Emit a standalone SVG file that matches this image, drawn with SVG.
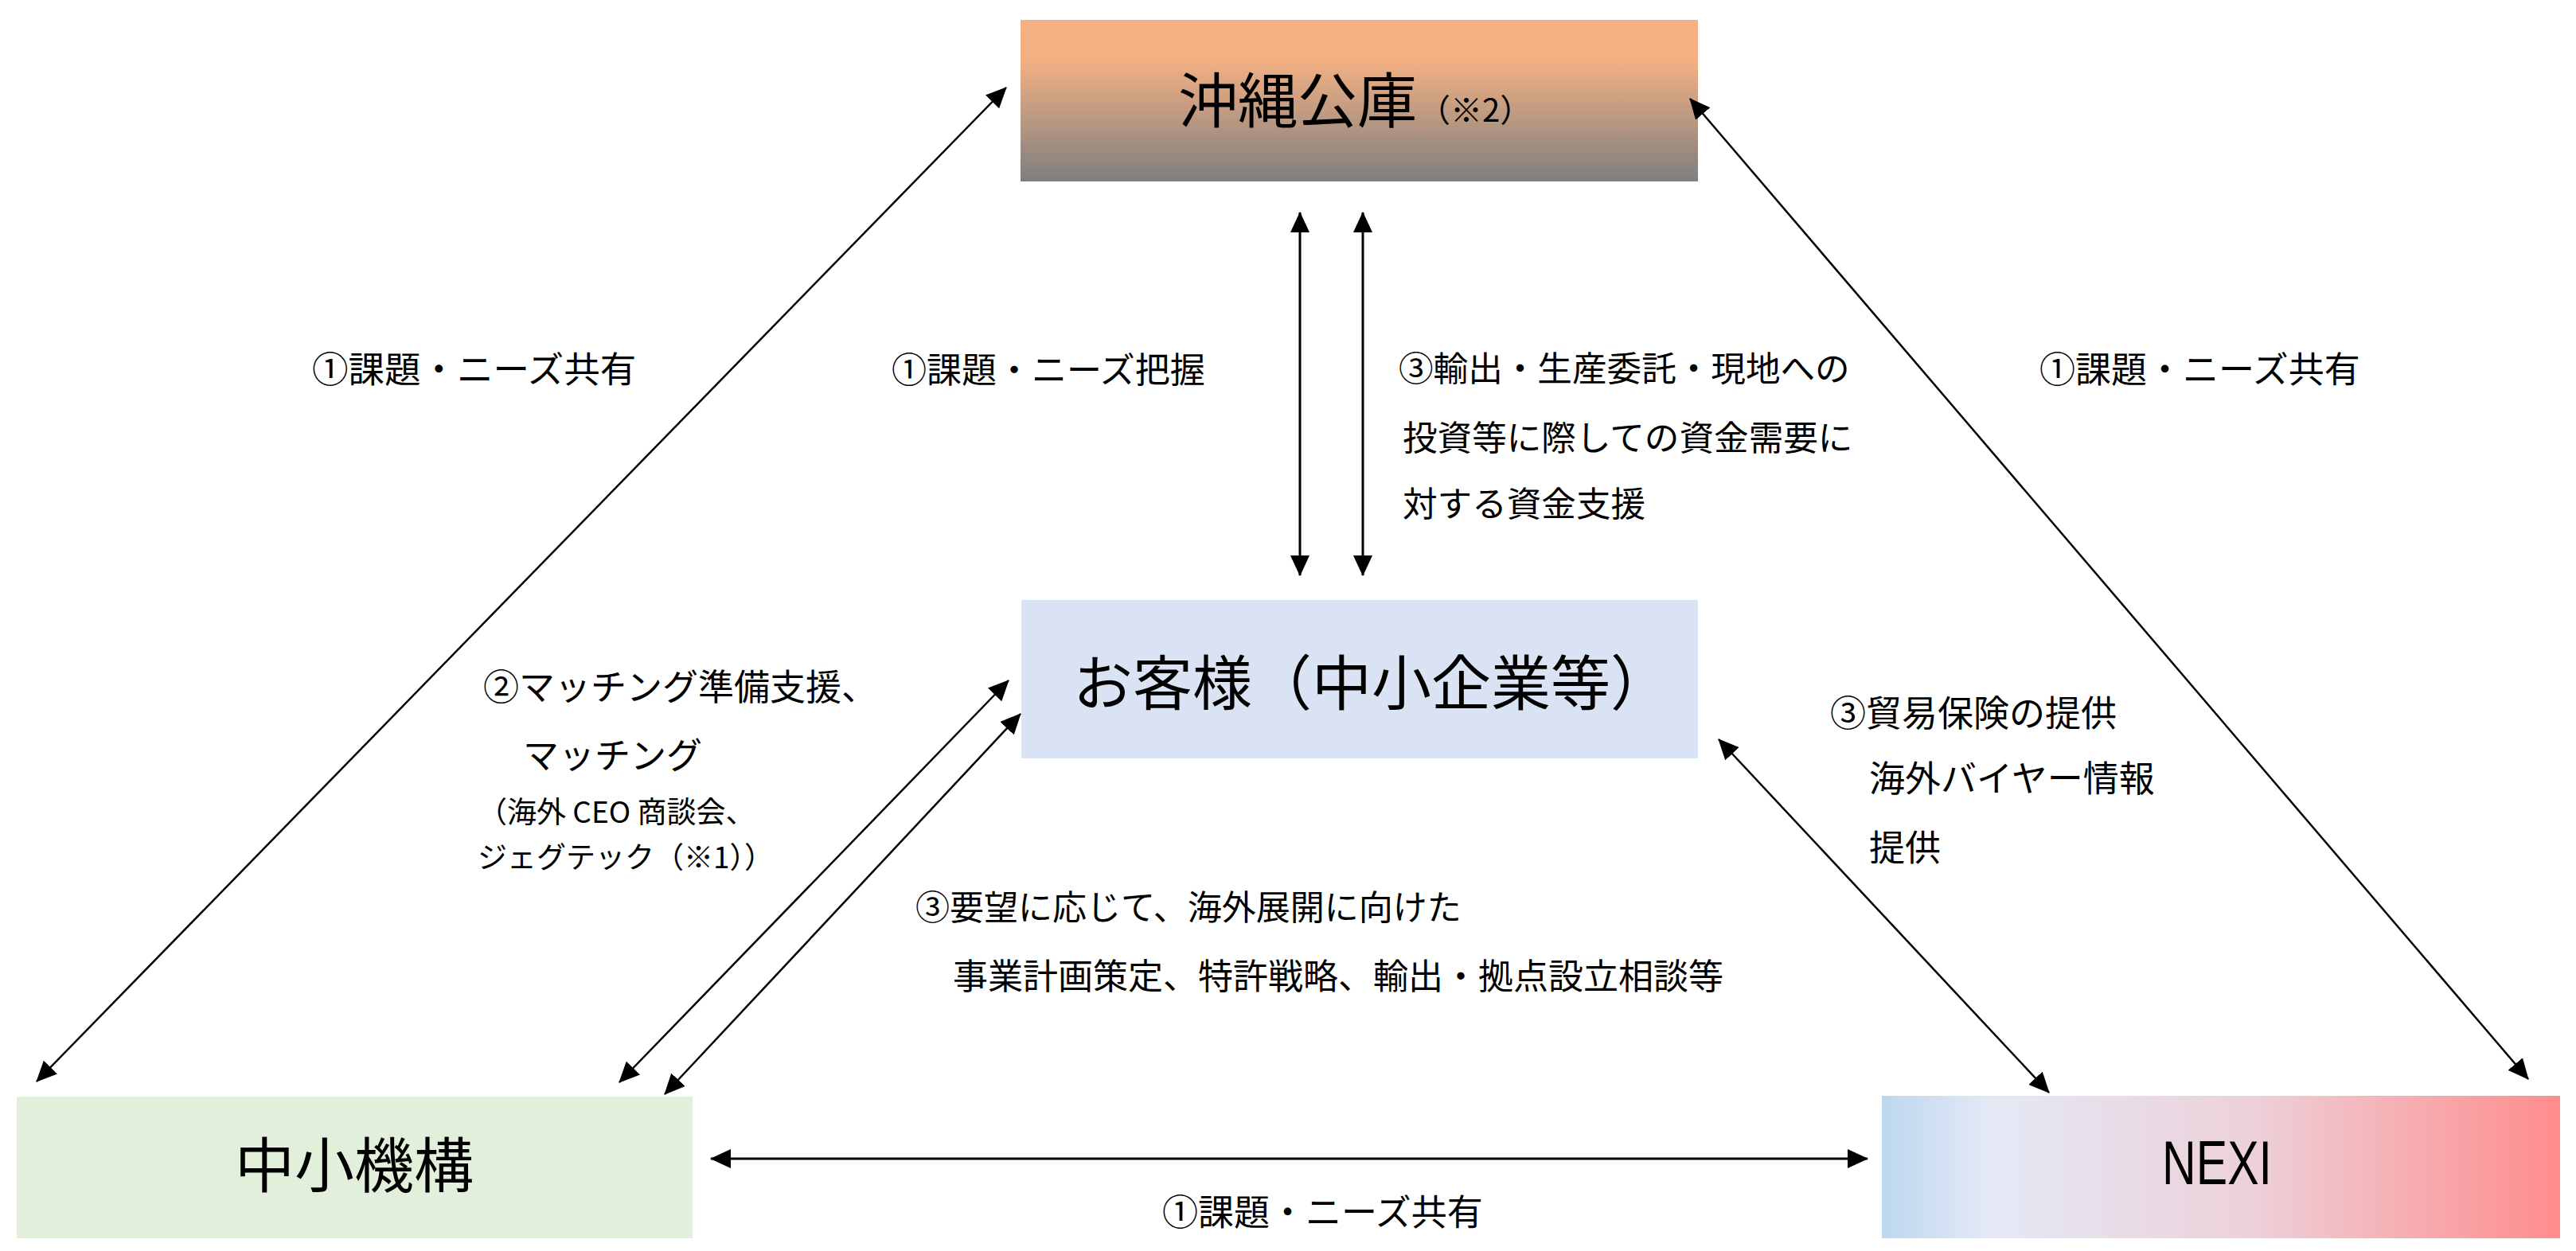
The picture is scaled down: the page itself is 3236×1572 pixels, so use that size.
<svg xmlns="http://www.w3.org/2000/svg" width="3236" height="1572" viewBox="0 0 3236 1572">
<defs>
<linearGradient id="gOki" x1="0" y1="0" x2="0" y2="1">
<stop offset="0" stop-color="#F4B183"/>
<stop offset="0.25" stop-color="#F2B083"/>
<stop offset="1" stop-color="#7F7F7F"/>
</linearGradient>
<linearGradient id="gNexi" x1="0" y1="0" x2="1" y2="0">
<stop offset="0" stop-color="#BDD7EE"/>
<stop offset="0.16" stop-color="#E4E9F6"/>
<stop offset="0.55" stop-color="#EDD0D8"/>
<stop offset="1" stop-color="#FF8C8C"/>
</linearGradient>
<marker id="ah" markerUnits="userSpaceOnUse" markerWidth="26" markerHeight="24" refX="25" refY="12" orient="auto-start-reverse">
<path d="M0,0 L26,12 L0,24 z" fill="#000"/>
</marker>
</defs>
<style>
text{font-family:"Noto Sans CJK JP","Noto Sans CJK SC",sans-serif;fill:#000}
.lbl{font-size:45px}
.node{font-size:75px}
.c{stroke:#000;stroke-width:2.5;fill:none;marker-start:url(#ah);marker-end:url(#ah)}
.t{stroke-width:3}
</style>
<rect width="3236" height="1572" fill="#fff"/>

<g id="okinawa">
<rect x="1282" y="25" width="851" height="203" fill="url(#gOki)"/>
<text class="node" x="1480" y="154">沖縄公庫</text>
<text x="1782" y="153" font-size="40">（※2）</text>
</g>

<g id="customer">
<rect x="1283" y="754" width="850" height="199" fill="#DAE3F3"/>
<text class="node" x="1348" y="886">お客様（中小企業等）</text>
</g>

<g id="smrj">
<rect x="21" y="1378" width="849" height="178" fill="#E2EFDA"/>
<text class="node" x="445" y="1492" text-anchor="middle">中小機構</text>
</g>

<g id="nexi">
<rect x="2364" y="1377" width="852" height="179" fill="url(#gNexi)"/>
<text x="2785" y="1488" text-anchor="middle" font-family="Liberation Sans, sans-serif" style="font-family:'Liberation Sans',sans-serif" font-size="78" textLength="138" lengthAdjust="spacingAndGlyphs">NEXI</text>
</g>

<g id="connectors">
<line class="c" x1="46" y1="1359" x2="1264" y2="110"/>
<line class="c" x1="2123" y1="124" x2="3176" y2="1356"/>
<line class="c t" x1="1633" y1="267" x2="1633" y2="723"/>
<line class="c t" x1="1712" y1="267" x2="1712" y2="723"/>
<line class="c" x1="778" y1="1360" x2="1267" y2="855"/>
<line class="c" x1="835" y1="1375" x2="1282" y2="897"/>
<line class="c" x1="2159" y1="929" x2="2574" y2="1373"/>
<line class="c t" x1="893" y1="1456" x2="2346" y2="1456"/>
</g>

<g id="labels">
<text class="lbl" x="392" y="481" style="font-size:45.5px">①課題・ニーズ共有</text>
<text class="lbl" x="1120" y="481" style="font-size:44px">①課題・ニーズ把握</text>
<text class="lbl" x="2562" y="481">①課題・ニーズ共有</text>
<text class="lbl" style="font-size:43.6px" x="1757" y="479">③輸出・生産委託・現地への</text>
<text class="lbl" style="font-size:43.6px" x="1762" y="566">投資等に際しての資金需要に</text>
<text class="lbl" style="font-size:43.6px" x="1762" y="649">対する資金支援</text>
<text class="lbl" x="607" y="880">②マッチング準備支援、</text>
<text class="lbl" x="657" y="966">マッチング</text>
<text x="600" y="1034" font-size="37">（海外 CEO 商談会、</text>
<text x="600" y="1091" font-size="37">ジェグテック（※1））</text>
<text class="lbl" style="font-size:43px" x="1150" y="1156">③要望に応じて、海外展開に向けた</text>
<text class="lbl" style="font-size:44px" x="1197" y="1243">事業計画策定、特許戦略、輸出・拠点設立相談等</text>
<text class="lbl" x="2299" y="913">③貿易保険の提供</text>
<text class="lbl" x="2348" y="995">海外バイヤー情報</text>
<text class="lbl" x="2348" y="1082">提供</text>
<text class="lbl" x="1460" y="1540">①課題・ニーズ共有</text>
</g>
</svg>
